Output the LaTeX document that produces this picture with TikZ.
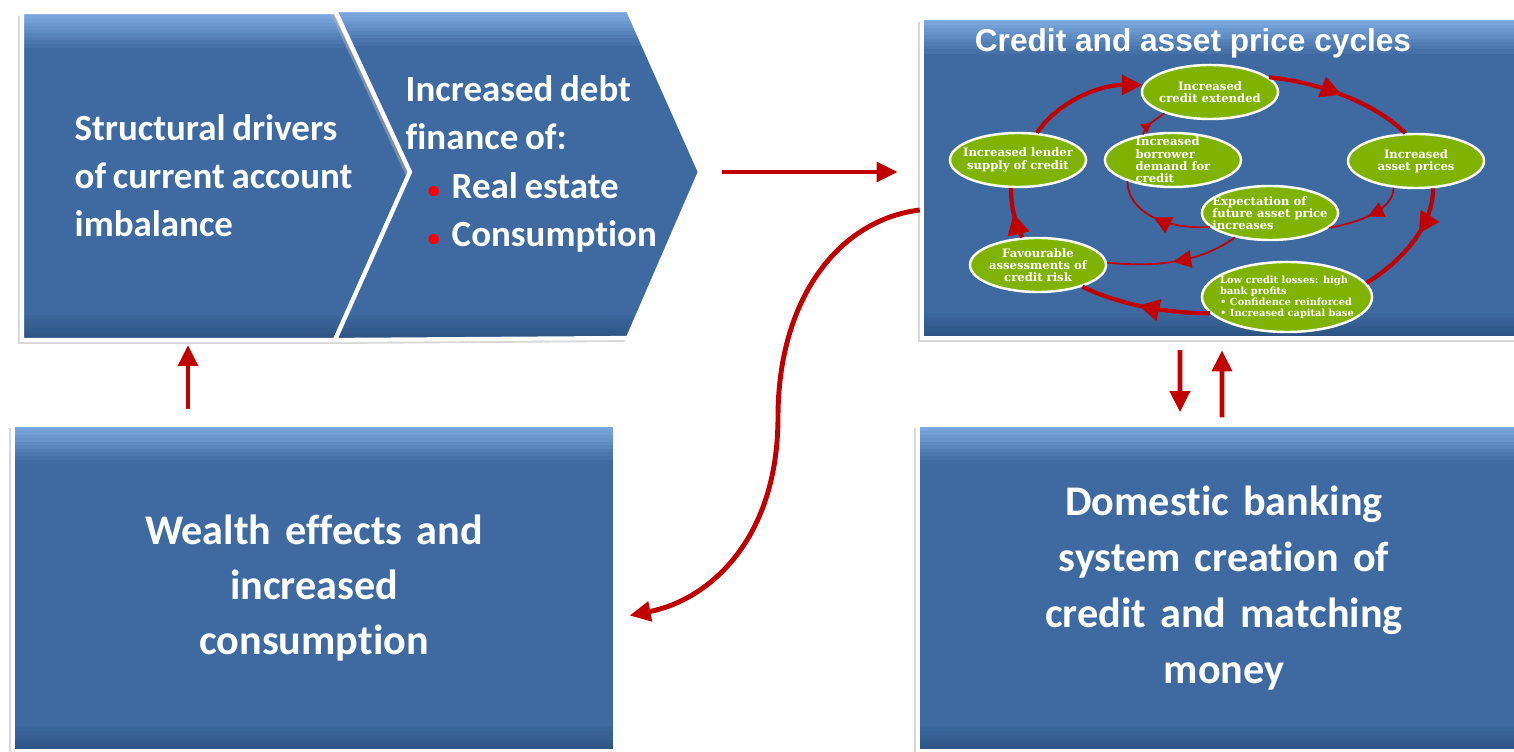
\documentclass[tikz,border=0pt]{standalone}
\usepackage{fontspec}
\setmainfont{Carlito}[Ligatures=NoCommon, WordSpace=0.8]
\newfontfamily\titlefont{Liberation Sans}
\newfontfamily\ellfont{DejaVu Serif}
\usetikzlibrary{shapes.geometric,arrows.meta,decorations.markings,shadows}

\definecolor{boxblue}{RGB}{62,106,161}
\definecolor{bevtop}{RGB}{128,172,228}
\definecolor{boxdark}{RGB}{44,82,130}
\definecolor{ellgreen}{RGB}{127,179,0}
\definecolor{arrred}{RGB}{192,0,0}
\definecolor{bulred}{RGB}{255,0,0}

\newcommand{\redbul}{\hspace*{0.22cm}\makebox[0.24cm][l]{\textcolor{bulred}{\fontsize{7pt}{7pt}\selectfont\textbullet}}}

\tikzset{
  bevelbox/.style={fill=boxblue, draw=white, line width=1.2pt, text=white,
    drop shadow={shadow xshift=-0.04cm, shadow yshift=-0.04cm, fill=black!30, opacity=0.5},
    path picture={
      \foreach \i [evaluate=\i as \pc using 100-10*\i] in {0,...,9}
        \fill[bevtop!\pc!boxblue] ([yshift={-\i*0.035cm}]path picture bounding box.north west)
          rectangle ([yshift={-(\i+1)*0.035cm-0.01cm}]path picture bounding box.north east);
      \foreach \i [evaluate=\i as \pc using 100-12*\i] in {0,...,7}
        \fill[boxdark!\pc!boxblue] ([yshift={\i*0.03cm}]path picture bounding box.south west)
          rectangle ([yshift={(\i+1)*0.03cm+0.01cm}]path picture bounding box.south east);
    }},
  ell/.style={ellipse, fill=ellgreen, draw=white, line width=0.7pt, inner sep=0pt,
    minimum width=1.36cm, minimum height=0.54cm},
  elltext/.style={text=white, inner sep=0pt, align=center,
    font=\ellfont\bfseries\fontsize{3.3pt}{3.5pt}\selectfont},
  cyclearr/.style={draw=arrred, line width=1.2pt},
  innerarr/.style={draw=arrred, line width=0.5pt},
  midarr/.style 2 args={postaction={decorate}, decoration={markings,
    mark=at position #1 with {\arrow{Triangle[length=#2,width=#2]}}}},
  linkarr/.style={draw=arrred, line width=1.4pt, -{Triangle[length=6pt,width=5.5pt]}}
}

\begin{document}
\begin{tikzpicture}[x=0.01cm, y=-0.01cm]
  \path[use as bounding box, fill=white] (0,0) rectangle (1514,752);

  % chevrons
  \draw[bevelbox] (22,12) -- (335,12) -- (410,172) -- (335,340) -- (22,340) -- cycle;
  \draw[bevelbox] (335,10) -- (628,10) -- (700,172) -- (628,338) -- (335,340) -- (410,172) -- cycle;
  \coordinate (tip2) at (700,172);
  \coordinate (c1bot) at (188,340);
  \node[anchor=west, align=left, inner sep=0pt, text=white,
        font=\bfseries\fontsize{10.5pt}{13.7pt}\selectfont] (drivers) at (74,176)
    {Structural drivers\\of current account\\imbalance};
  \node[anchor=west, align=left, inner sep=0pt, text=white,
        font=\bfseries\fontsize{10.5pt}{13.7pt}\selectfont] (debt) at (405,164)
    {Increased debt\\finance of:\\\redbul Real estate\\\redbul Consumption};

  % boxes
  \node[bevelbox, minimum width=6.01cm, minimum height=3.27cm, text width=4.4cm, align=center,
        font=\bfseries\fontsize{12pt}{15.6pt}\selectfont] (wealth) at (314,588)
    {Wealth effects and\\increased\\consumption};
  \node[bevelbox, minimum width=6.12cm, minimum height=3.27cm, text width=4.4cm, align=center,
        font=\bfseries\fontsize{12pt}{16pt}\selectfont] (bank) at (1224,588)
    {Domestic banking\\system creation of\\credit and matching\\money};
  \node[bevelbox, minimum width=6.08cm, minimum height=3.2cm] (cyc) at (1226,178) {};
  \node[text=white, inner sep=0pt, font=\titlefont\bfseries\fontsize{9pt}{11pt}\selectfont]
    (cyctitle) at (1193,43) {Credit and asset price cycles};

  % cycle
  \node[ell, label={[elltext]center:{Increased\\credit extended}}] (credit) at (1210,92) {};
  \node[ell, label={[elltext]center:{Increased lender\\supply of credit}}] (lender) at (1018,160) {};
  \node[ell, label={[elltext, align=left]center:{Increased\\borrower\\demand for\\credit}}] (borrower) at (1173,160) {};
  \node[ell, label={[elltext]center:{Increased\\asset prices}}] (asset) at (1416,161) {};
  \node[ell, label={[elltext, align=left]center:{Expectation of\\future asset price\\increases}}] (expect) at (1270,213) {};
  \node[ell, label={[elltext]center:{Favourable\\assessments of\\credit risk}}] (favour) at (1038,265) {};
  \node[ell, minimum width=1.7cm, minimum height=0.7cm,
        label={[elltext, align=left, font=\ellfont\bfseries\fontsize{2.8pt}{3.1pt}\selectfont]center:{Low credit losses: high\\bank profits\\\textbullet{} Confidence reinforced\\\textbullet{} Increased capital base}}] (losses) at (1287,297) {};

  \draw[cyclearr, -{Triangle[length=6pt,width=5.5pt]}] (lender.55) .. controls +(20,-30) and +(-45,0) .. (credit.174);
  \draw[cyclearr, midarr={0.5}{6pt}] (credit.14) .. controls +(50,5) and +(-30,-30) .. (asset.111);
  \draw[cyclearr, midarr={0.4}{6pt}] (asset.-58) .. controls +(0,35) and +(40,-25) .. (losses.10);
  \draw[cyclearr, midarr={0.55}{6pt}] (losses.192) .. controls +(-50,0) and +(30,15) .. (favour.-26);
  \draw[cyclearr, midarr={0.5}{6pt}] (favour.120) .. controls +(-8,-18) and +(0,18) .. (lender.-104);

  \draw[innerarr, midarr={0.5}{3pt}] (borrower.140) .. controls +(5,-12) and +(-10,8) .. (credit.-155);
  \draw[innerarr, midarr={0.55}{5pt}] (expect.193) .. controls +(-45,3) and +(0,30) .. (borrower.205);
  \draw[innerarr, midarr={0.5}{4.5pt}] (asset.-130) .. controls +(0,22) and +(30,-5) .. (expect.-14);
  \draw[innerarr, midarr={0.5}{5pt}] (expect.215) .. controls +(-35,25) and +(50,5) .. (favour.2);

  % links
  \draw[linkarr, shorten <=0.22cm, shorten >=0.22cm] (tip2) -- (cyc.west |- tip2);
  \draw[linkarr, shorten <=0.13cm, shorten >=0.05cm] (wealth.north -| c1bot) -- (c1bot);
  \draw[linkarr, shorten <=0.1cm, shorten >=0.1cm] ([xshift=-0.46cm]cyc.south) -- ([xshift=-0.44cm]bank.north);
  \draw[linkarr, shorten <=0.05cm, shorten >=0.1cm] ([xshift=-0.02cm]bank.north) -- ([xshift=-0.04cm]cyc.south);
  \coordinate (sbend) at (778,417);
  \draw[linkarr, shorten >=0.13cm] ([yshift=-0.32cm]cyc.west) .. controls +(-82,10) and +(0,-117) .. (sbend)
    .. controls +(0,123) and +(92,-18) .. ([yshift=-0.3cm]wealth.east);
\end{tikzpicture}
\end{document}
